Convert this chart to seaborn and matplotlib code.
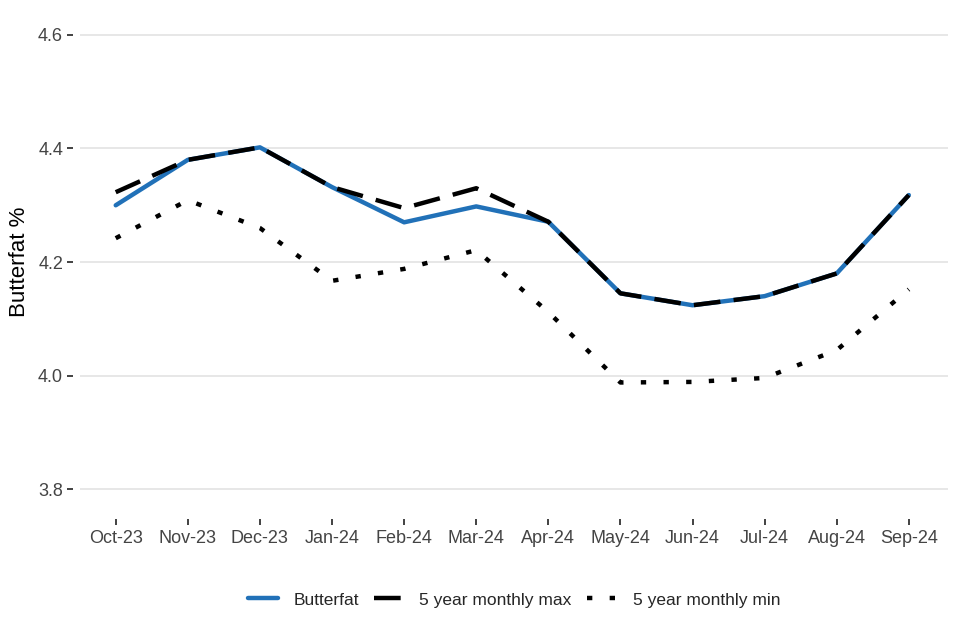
import pandas as pd
import numpy as np
import matplotlib
matplotlib.use("Agg")
import matplotlib.pyplot as plt
import seaborn as sns

# Monthly data
months = ['Oct-23', 'Nov-23', 'Dec-23', 'Jan-24', 'Feb-24', 'Mar-24',
          'Apr-24', 'May-24', 'Jun-24', 'Jul-24', 'Aug-24', 'Sep-24']
butterfat = [4.300, 4.380, 4.402, 4.332, 4.270, 4.298, 4.271, 4.145, 4.124, 4.140, 4.180, 4.318]
max_5yr = [4.323, 4.380, 4.402, 4.332, 4.295, 4.330, 4.271, 4.145, 4.124, 4.140, 4.180, 4.318]
min_5yr = [4.242, 4.309, 4.260, 4.167, 4.188, 4.221, 4.112, 3.988, 3.989, 3.996, 4.045, 4.152]

df = pd.DataFrame({'month': months, 'pos': range(len(months)),
                   'Butterfat': butterfat,
                   '5 year monthly max': max_5yr,
                   '5 year monthly min': min_5yr})

sns.set_theme(style='whitegrid')
plt.rcParams['font.family'] = ['Liberation Sans', 'DejaVu Sans']

fig = plt.figure(figsize=(9.6, 6.4), dpi=100)
ax = fig.add_axes([0.083, 0.2, 0.905, 0.781])

sns.lineplot(data=df, x='pos', y='Butterfat', ax=ax, color='#2171B8',
             linewidth=3.2, label='Butterfat')
sns.lineplot(data=df, x='pos', y='5 year monthly max', ax=ax, color='black',
             linewidth=3.2, label='5 year monthly max')
sns.lineplot(data=df, x='pos', y='5 year monthly min', ax=ax, color='black',
             linewidth=3.2, label='5 year monthly min')
ax.lines[1].set_dashes((6, 3))
ax.lines[1].set_dash_capstyle('butt')
ax.lines[2].set_dashes((1.2, 3.9))
ax.lines[2].set_dash_capstyle('butt')

ax.set_xlim(-0.5, 11.55)
ax.set_ylim(3.76, 4.64)
ax.set_xticks(range(len(months)))
ax.set_xticklabels(months)
ax.set_yticks([3.8, 4.0, 4.2, 4.4, 4.6])
ax.set_yticklabels(['3.8', '4.0', '4.2', '4.4', '4.6'])
ax.grid(axis='x', visible=False)
ax.grid(axis='y', color='#E3E3E3', linewidth=1.2)
for s in ax.spines.values():
    s.set_visible(False)
# ticks sit slightly away from the panel
ax.spines['bottom'].set_position(('outward', 5))
ax.spines['left'].set_position(('outward', 5))
ax.tick_params(axis='both', left=True, bottom=True, colors='#333333', labelsize=13,
               length=4, width=1.3, direction='out', labelcolor='#444444')
ax.tick_params(axis='y', pad=3)
ax.tick_params(axis='x', pad=4)
ax.set_xlabel('')
ax.set_ylabel('Butterfat %', fontsize=16, color='black', labelpad=6)

handles, labels = ax.get_legend_handles_labels()
leg = ax.legend(handles, labels, loc='center', bbox_to_anchor=(0.5, -0.176),
                ncol=3, frameon=False, fontsize=12.5, handlelength=1.7,
                columnspacing=0.9, handletextpad=0.9)

fig.savefig('out.png', dpi=100, facecolor='white')
